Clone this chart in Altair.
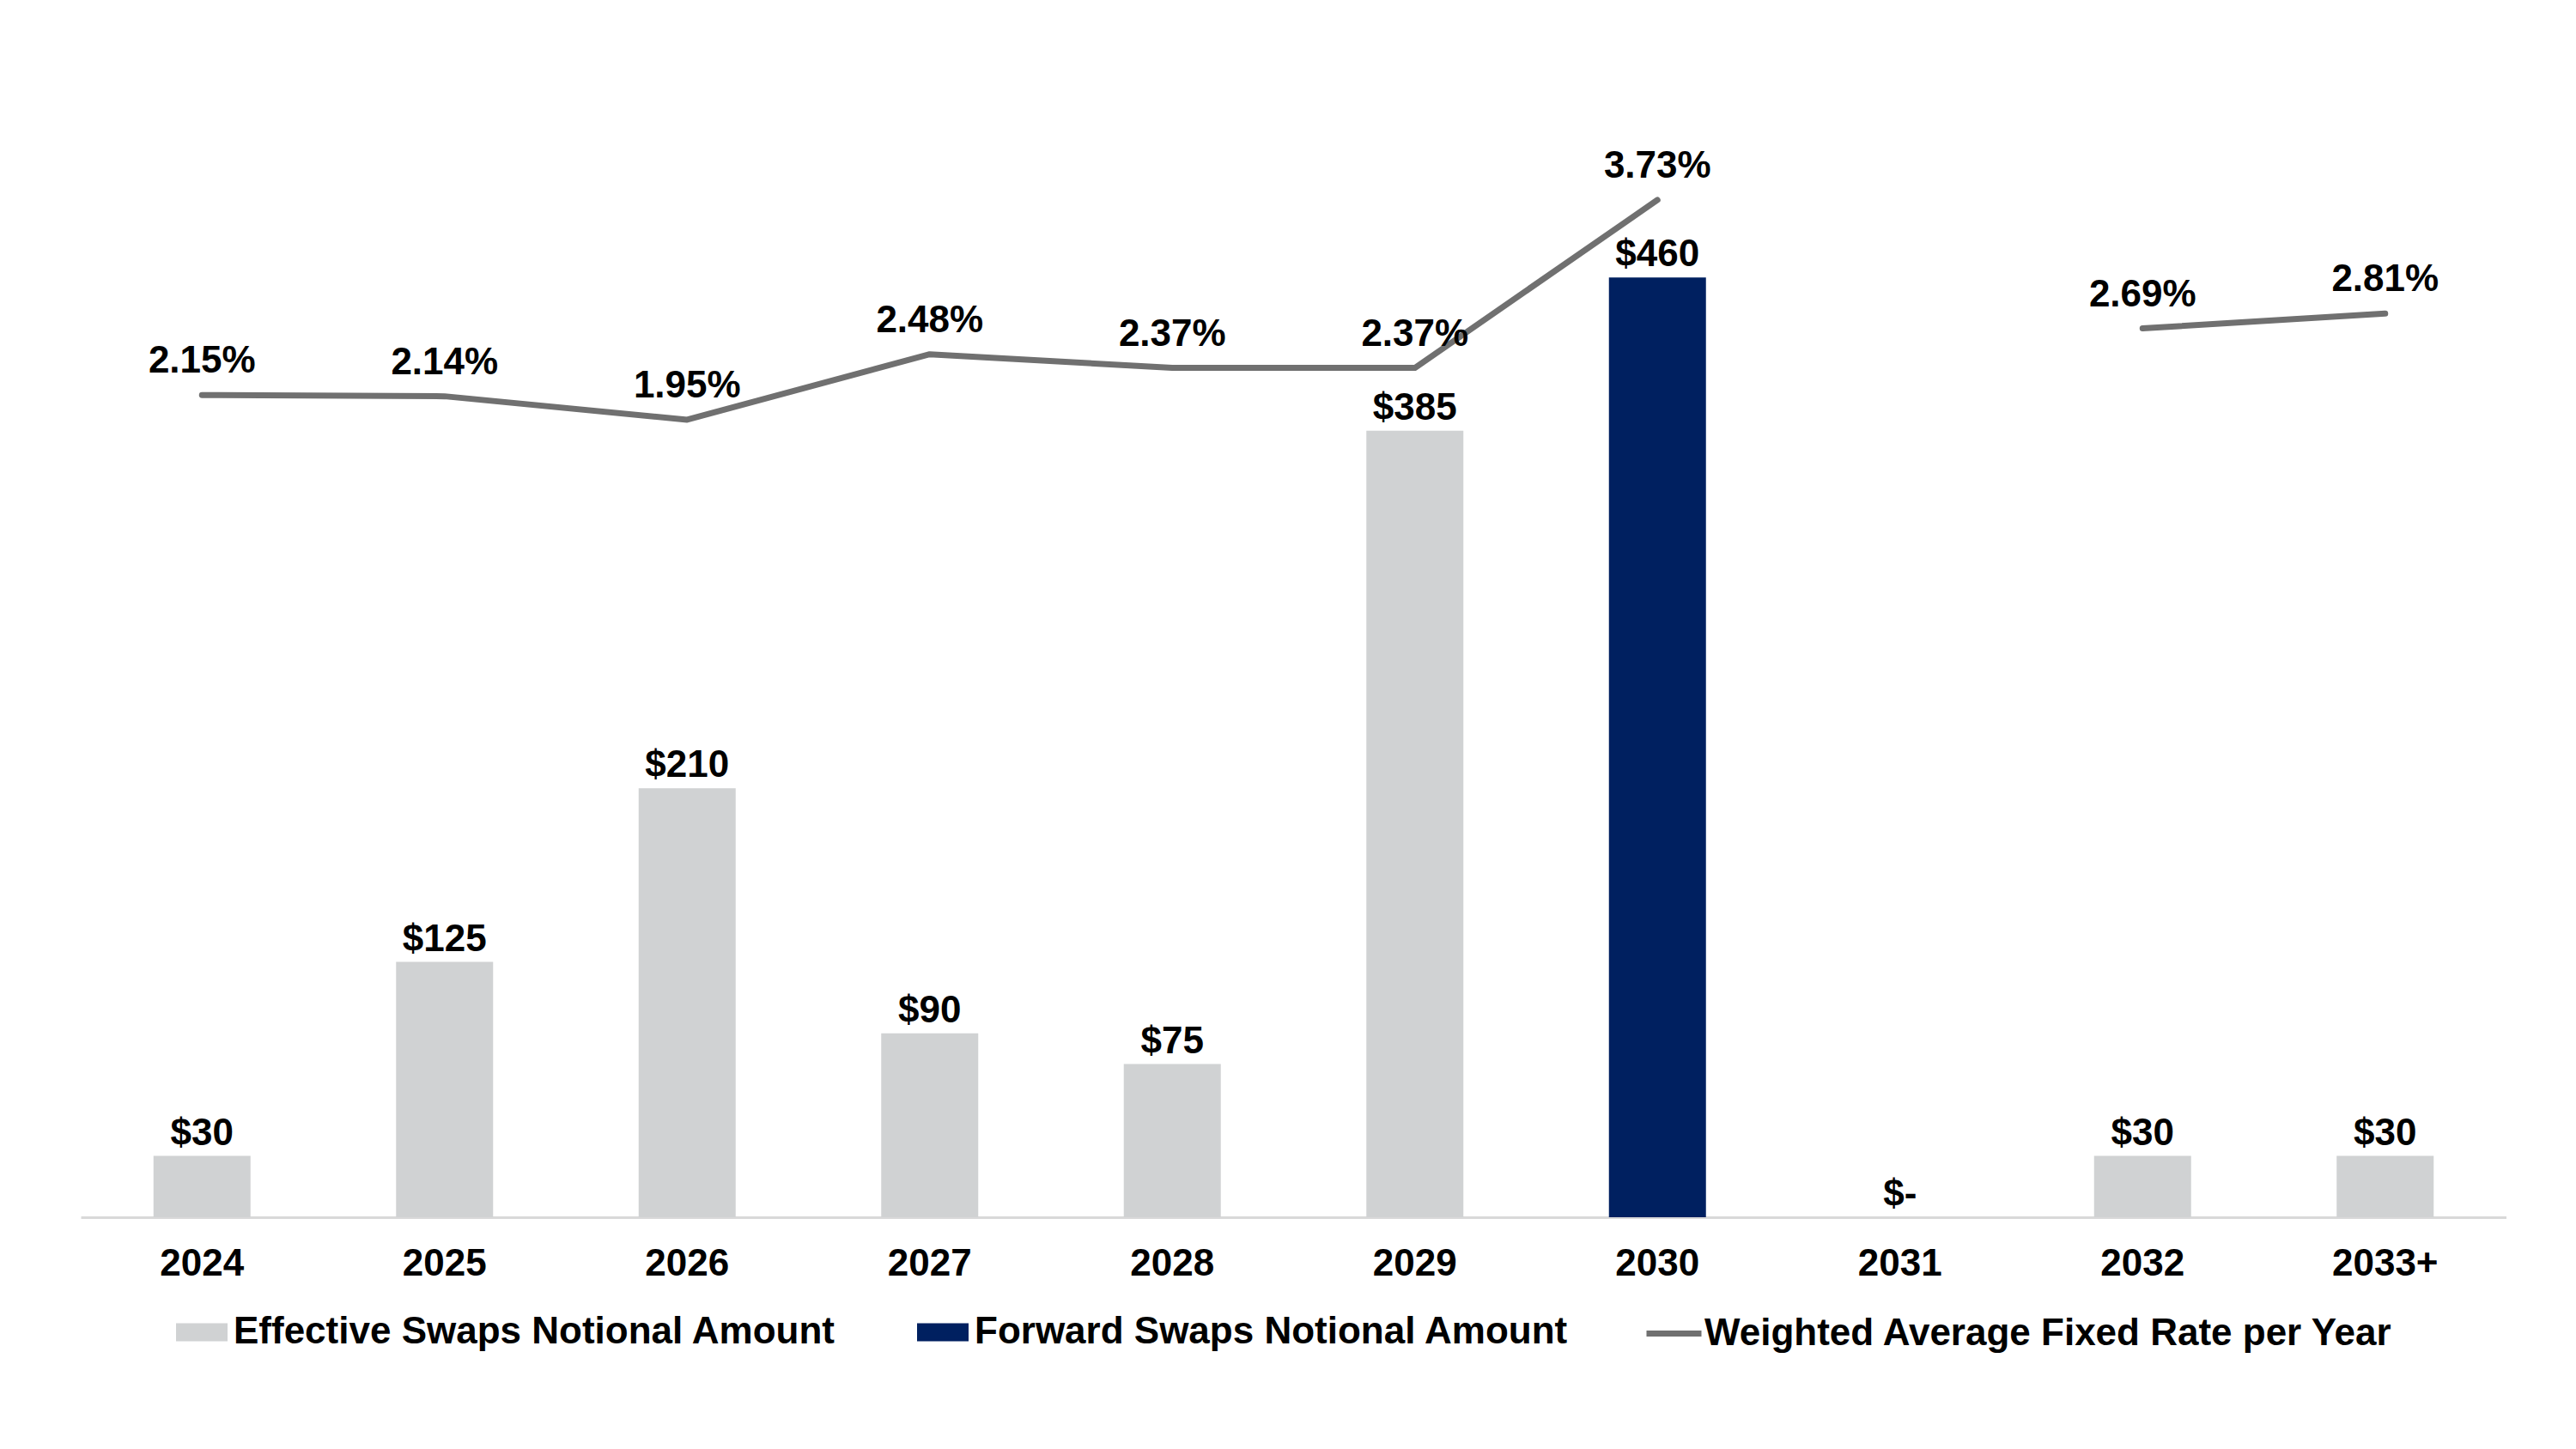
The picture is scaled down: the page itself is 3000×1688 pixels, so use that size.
import altair as alt
import pandas as pd

# ---- data ----
years = ["2024", "2025", "2026", "2027", "2028", "2029", "2030", "2031", "2032", "2033+"]
amounts = [30, 125, 210, 90, 75, 385, 460, 0, 30, 30]
swap_types = ["Effective Swaps Notional Amount"] * 6 + ["Forward Swaps Notional Amount"] + \
             ["Effective Swaps Notional Amount"] * 3
rates = [2.15, 2.14, 1.95, 2.48, 2.37, 2.37, 3.73, None, 2.69, 2.81]
line_segment = ["first"] * 7 + ["none"] + ["second"] * 2

bar_series = ["Effective Swaps Notional Amount", "Forward Swaps Notional Amount"]
line_series = "Weighted Average Fixed Rate per Year"

GRAY = "#d0d2d3"
NAVY = "#002060"
LINE = "#707070"
FONT = "Liberation Sans"
FS = 44

df = pd.DataFrame({
    "year": years,
    "amount": amounts,
    "type": swap_types,
    "rate": rates,
    "segment": line_segment,
    "series": [line_series] * len(years),
})

x_enc = alt.X("year:O", sort=years, title=None,
              scale=alt.Scale(paddingInner=0.6, paddingOuter=0.3),
              axis=alt.Axis(labelAngle=0, labelFont=FONT, labelFontSize=FS,
                            labelFontWeight="bold", labelColor="black",
                            ticks=False, tickSize=0, labelPadding=32,
                            domainColor="#d9d9d9", domainWidth=3, grid=False))

y_bar = alt.Y("amount:Q", scale=alt.Scale(domain=[0, 550], nice=False, zero=True), axis=None)
y_line = alt.Y("rate:Q", scale=alt.Scale(domain=[-4.51, 4.592], nice=False, zero=False), axis=None)

base = alt.Chart(df)

bars = base.mark_bar().encode(
    x=x_enc,
    y=y_bar,
    color=alt.Color("type:N",
                    scale=alt.Scale(domain=bar_series, range=[GRAY, NAVY]),
                    legend=alt.Legend(title=None, orient="none", legendX=111, legendY=1413,
                                      direction="horizontal", columns=2, padding=0,
                                      symbolType="M-1,-0.35H1V0.35H-1Z", symbolSize=3600,
                                      symbolStrokeWidth=0, symbolOpacity=1,
                                      labelFont=FONT, labelFontSize=FS, labelFontWeight="bold",
                                      labelColor="black", labelOffset=7, labelLimit=2000,
                                      columnPadding=94)),
)

bar_labels = base.transform_calculate(
    label="datum.amount == 0 ? '$-' : '$' + datum.amount"
).mark_text(font=FONT, fontSize=FS, fontWeight="bold", color="black",
            baseline="alphabetic", align="center", dy=-13).encode(
    x=alt.X("year:O", sort=years),
    y=y_bar,
    text="label:N",
)

line = base.transform_filter("isValid(datum.rate)").mark_line(
    strokeWidth=7, strokeCap="round", strokeJoin="round"
).encode(
    x=alt.X("year:O", sort=years),
    y=y_line,
    detail="segment:N",
    stroke=alt.Stroke("series:N",
                      scale=alt.Scale(domain=[line_series], range=[LINE]),
                      legend=alt.Legend(title=None, orient="none", legendX=1820, legendY=1409,
                                        direction="horizontal", padding=0,
                                        symbolType="stroke", symbolSize=4096,
                                        symbolStrokeWidth=7, symbolStrokeColor=LINE,
                                        labelFont=FONT, labelFontSize=FS, labelFontWeight="bold",
                                        labelColor="black", labelOffset=0, labelLimit=2000)),
)

rate_labels = base.transform_filter("isValid(datum.rate)").transform_calculate(
    label="format(datum.rate, '.2f') + '%'"
).mark_text(font=FONT, fontSize=FS, fontWeight="bold", color="black",
            baseline="alphabetic", align="center", dy=-26).encode(
    x=alt.X("year:O", sort=years),
    y=y_line,
    text="label:N",
)

bar_layer = alt.layer(bars, bar_labels)
line_layer = alt.layer(line, rate_labels)

chart = alt.layer(bar_layer, line_layer).resolve_scale(
    y="independent", color="independent", stroke="independent"
).properties(
    width=2825, height=1309,
    padding={"left": 86, "top": 101, "right": 0, "bottom": 0},
    background="white",
).configure_view(stroke=None)

chart.save("out.html", embed_options={"renderer": "svg", "actions": False})
